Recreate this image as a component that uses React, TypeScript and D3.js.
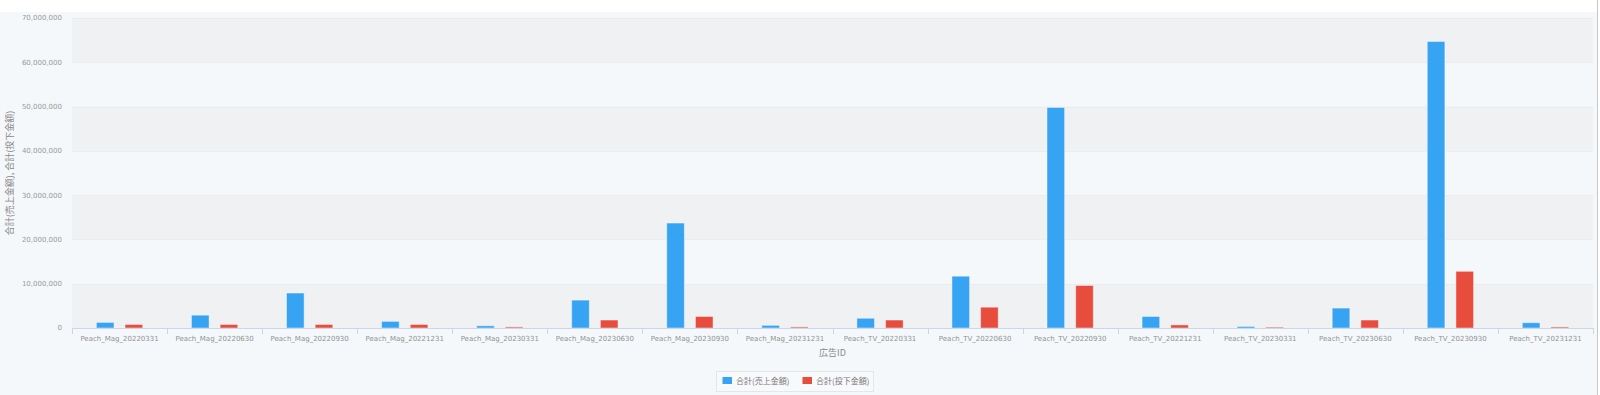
import React, { useEffect, useRef } from "react";
import * as d3 from "d3";

const categories = [
  "Peach_Mag_20220331",
  "Peach_Mag_20220630",
  "Peach_Mag_20220930",
  "Peach_Mag_20221231",
  "Peach_Mag_20230331",
  "Peach_Mag_20230630",
  "Peach_Mag_20230930",
  "Peach_Mag_20231231",
  "Peach_TV_20220331",
  "Peach_TV_20220630",
  "Peach_TV_20220930",
  "Peach_TV_20221231",
  "Peach_TV_20230331",
  "Peach_TV_20230630",
  "Peach_TV_20230930",
  "Peach_TV_20231231",
];
const seriesNames = ["合計(売上金額)", "合計(投下金額)"];
const sales = [
  1260000, 2900000, 7900000, 1500000, 500000, 6300000, 23700000, 600000,
  2200000, 11700000, 49800000, 2600000, 350000, 4500000, 64700000, 1200000,
];
const spend = [
  800000, 800000, 800000, 800000, 250000, 1800000, 2600000, 250000,
  1800000, 4700000, 9600000, 700000, 200000, 1800000, 12800000, 250000,
];
const yTicks = [0, 10000000, 20000000, 30000000, 40000000, 50000000, 60000000, 70000000];
const colors = ["#36a3f3", "#e74c3c"];

const W = 1600;
const H = 395;
const FONT = "'DejaVu Sans', Verdana, sans-serif";
const CJK = "'Noto Sans CJK JP', 'DejaVu Sans', sans-serif";

export default function App() {
  const ref = useRef<SVGSVGElement>(null);

  useEffect(() => {
    document.body.style.margin = "0";
    const svg = d3.select(ref.current);
    svg.selectAll("*").remove();

    const margin = { top: 18, right: 7, bottom: 67, left: 72 };
    const width = W - margin.left - margin.right;
    const height = H - margin.top - margin.bottom;

    // page background
    svg.append("rect").attr("x", 0).attr("y", 12).attr("width", 1597).attr("height", H - 12).attr("fill", "#f5f8fa");
    svg.append("line").attr("x1", 1597.5).attr("x2", 1597.5).attr("y1", 0).attr("y2", H).attr("stroke", "#c8c8c8");

    const g = svg.append("g").attr("transform", "translate(" + margin.left + "," + margin.top + ")");

    const x0 = d3.scaleBand<string>().domain(categories).range([0, width]);
    const x1 = d3
      .scaleBand<string>()
      .domain(seriesNames)
      .range([0, x0.bandwidth()])
      .paddingInner(0.385)
      .paddingOuter(0.85);
    const y = d3.scaleLinear().domain([0, 70000000]).range([height, 0]);

    // alternating plot bands
    yTicks.slice(0, -1).forEach((t, i) => {
      if (i % 2 === 0) {
        g.append("rect")
          .attr("x", 0)
          .attr("y", y(yTicks[i + 1]))
          .attr("width", width)
          .attr("height", y(t) - y(yTicks[i + 1]))
          .attr("fill", "#f0f1f3");
      }
    });

    // grid lines
    g.selectAll(".grid")
      .data(yTicks.slice(1))
      .enter()
      .append("line")
      .attr("x1", 0)
      .attr("x2", width)
      .attr("y1", d => Math.round(y(d)) + 0.5)
      .attr("y2", d => Math.round(y(d)) + 0.5)
      .attr("stroke", "#eaecef");

    // y tick labels
    g.selectAll(".ylab")
      .data(yTicks)
      .enter()
      .append("text")
      .attr("x", -10)
      .attr("y", d => y(d))
      .attr("dy", "0.35em")
      .attr("text-anchor", "end")
      .attr("font-family", FONT)
      .attr("font-size", 7)
      .attr("fill", "#999")
      .text(d => d3.format(",")(d));

    // bars
    const data = [sales, spend];
    categories.forEach((c, i) => {
      seriesNames.forEach((s, j) => {
        g.append("rect")
          .attr("x", (x0(c) as number) + (x1(s) as number))
          .attr("y", y(data[j][i]))
          .attr("width", x1.bandwidth())
          .attr("height", height - y(data[j][i]))
          .attr("fill", colors[j])
          .attr("stroke", "rgba(255,255,255,0.45)")
          .attr("stroke-width", 1);
      });
    });

    // x axis
    g.append("line")
      .attr("x1", 0)
      .attr("x2", width)
      .attr("y1", height + 0.5)
      .attr("y2", height + 0.5)
      .attr("stroke", "#ccd6eb");
    g.selectAll(".xtick")
      .data(categories.concat([""]))
      .enter()
      .append("line")
      .attr("x1", (d, i) => Math.round(i * x0.step()) + 0.5)
      .attr("x2", (d, i) => Math.round(i * x0.step()) + 0.5)
      .attr("y1", height)
      .attr("y2", height + 6)
      .attr("stroke", "#ccd6eb");
    g.selectAll(".xlab")
      .data(categories)
      .enter()
      .append("text")
      .attr("x", d => (x0(d) as number) + x0.bandwidth() / 2)
      .attr("y", height + 11)
      .attr("dy", "0.35em")
      .attr("text-anchor", "middle")
      .attr("font-family", FONT)
      .attr("font-size", 7)
      .attr("fill", "#929292")
      .text(d => d);

    // axis titles
    g.append("text")
      .attr("x", width / 2)
      .attr("y", height + 25)
      .attr("dy", "0.35em")
      .attr("text-anchor", "middle")
      .attr("font-family", CJK)
      .attr("font-size", 9)
      .attr("fill", "#888")
      .text("広告ID");
    g.append("text")
      .attr("transform", "translate(" + (10 - margin.left) + "," + height / 2 + ") rotate(-90)")
      .attr("dy", "0.35em")
      .attr("text-anchor", "middle")
      .attr("font-family", CJK)
      .attr("font-size", 9)
      .attr("fill", "#888")
      .text(seriesNames.join(", "));

    // legend
    const lg = svg.append("g").attr("transform", "translate(716.5,371.5)");
    lg.append("rect").attr("width", 157).attr("height", 20).attr("fill", "#f7f9fb").attr("stroke", "#e4e7ea");
    seriesNames.forEach((s, j) => {
      const off = 6 + j * 80;
      lg.append("rect").attr("x", off).attr("y", 5.5).attr("width", 9.5).attr("height", 7).attr("fill", colors[j]);
      lg.append("text")
        .attr("x", off + 13.5)
        .attr("y", 9.5)
        .attr("dy", "0.35em")
        .attr("font-family", CJK)
        .attr("font-size", 8)
        .attr("fill", "#777")
        .text(s);
    });
  }, []);

  return <svg ref={ref} width={W} height={H} style={{ display: "block" }} />;
}
